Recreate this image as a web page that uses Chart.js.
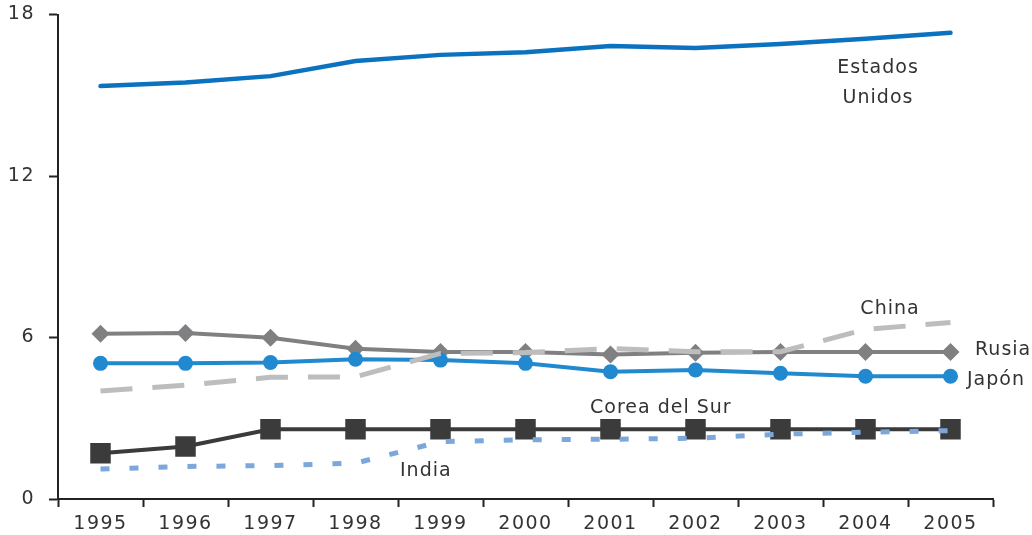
<!DOCTYPE html>
<html>
<head>
<meta charset="utf-8">
<script src="https://cdn.jsdelivr.net/npm/chart.js@4.4.0/dist/chart.umd.min.js"></script>
<style>
  html, body { margin: 0; padding: 0; background: #fff; }
  #wrap { width: 1032px; height: 535px; }
</style>
</head>
<body>
<div id="wrap"><canvas id="grafico"></canvas></div>
<script>
// datos
const anios = ["1995", "1996", "1997", "1998", "1999", "2000", "2001", "2002", "2003", "2004", "2005"];
const estadosUnidos = [15.34, 15.47, 15.71, 16.27, 16.5, 16.6, 16.83, 16.76, 16.9, 17.1, 17.32];
const rusia = [6.14, 6.17, 5.99, 5.58, 5.46, 5.46, 5.37, 5.43, 5.46, 5.46, 5.46];
const japon = [5.04, 5.04, 5.07, 5.19, 5.16, 5.04, 4.73, 4.79, 4.67, 4.56, 4.56];
const china = [4.01, 4.23, 4.52, 4.54, 5.41, 5.44, 5.59, 5.47, 5.47, 6.3, 6.56];
const corea = [1.7, 1.95, 2.59, 2.59, 2.59, 2.59, 2.59, 2.59, 2.59, 2.59, 2.59];
const india = [1.11, 1.21, 1.24, 1.33, 2.13, 2.2, 2.22, 2.26, 2.41, 2.48, 2.54];
const marcasY = [0, 6, 12, 18];

const fuente = '"DejaVu Sans", sans-serif';
const grisTexto = "#333333";

// etiquetas de las series (texto sobre el área del gráfico)
const etiquetas = [
  { texto: "Estados", x: 878, y: 68, align: "center" },
  { texto: "Unidos", x: 878, y: 98, align: "center" },
  { texto: "China", x: 890, y: 309, align: "center" },
  { texto: "Rusia", x: 975, y: 350, align: "left" },
  { texto: "Japón", x: 967, y: 380, align: "left" },
  { texto: "Corea del Sur", x: 590, y: 408, align: "left" },
  { texto: "India", x: 400, y: 471, align: "left" }
];

// espaciado de letras para las marcas de los ejes
const pluginEspaciado = {
  id: "espaciado",
  beforeDraw(chart) { chart.ctx.letterSpacing = "1.5px"; }
};

const pluginEtiquetas = {
  id: "etiquetas",
  afterDatasetsDraw(chart) {
    const ctx = chart.ctx;
    ctx.save();
    ctx.font = "19px " + fuente;
    ctx.letterSpacing = "1px";
    ctx.fillStyle = grisTexto;
    ctx.textBaseline = "middle";
    etiquetas.forEach(e => {
      ctx.textAlign = e.align;
      ctx.fillText(e.texto, e.x, e.y);
    });
    ctx.restore();
  }
};

function serie(label, data, color, extra) {
  return Object.assign({
    label,
    data,
    borderColor: color,
    backgroundColor: color,
    borderWidth: 4,
    pointRadius: 0,
    pointBorderWidth: 0,
    tension: 0,
    fill: false
  }, extra || {});
}

new Chart(document.getElementById("grafico"), {
  type: "line",
  data: {
    labels: anios,
    datasets: [
      serie("India", india, "#7ba7da", { borderDash: [9, 20], borderWidth: 5, borderCapStyle: "butt" }),
      serie("China", china, "#bdbdc0", { borderDash: [32, 20], borderWidth: 5, borderCapStyle: "butt" }),
      serie("Corea del Sur", corea, "#3b3b3b", { pointStyle: "rect", pointRadius: 14.5, borderWidth: 4 }),
      serie("Japón", japon, "#2189d0", { pointStyle: "circle", pointRadius: 7.5, borderWidth: 4 }),
      serie("Rusia", rusia, "#808083", { pointStyle: "rectRot", pointRadius: 9, borderWidth: 4 }),
      serie("Estados Unidos", estadosUnidos, "#0a72bf", { borderWidth: 4.5, borderCapStyle: "round" })
    ]
  },
  options: {
    responsive: true,
    maintainAspectRatio: false,
    animation: false,
    layout: { padding: { top: 13, right: 39, left: 0, bottom: 0 } },
    plugins: {
      legend: { display: false },
      tooltip: { enabled: false }
    },
    scales: {
      x: {
        offset: true,
        grid: {
          offset: true,
          drawOnChartArea: false,
          drawTicks: true,
          tickLength: 8,
          tickColor: "#222",
          tickWidth: 2
        },
        border: { display: true, color: "#222", width: 2 },
        ticks: {
          color: grisTexto,
          font: { family: fuente, size: 19 },
          padding: 6,
          maxRotation: 0,
          autoSkip: false
        },
        afterFit(scale) { scale.height = 36; }
      },
      y: {
        min: 0,
        max: 18,
        afterBuildTicks(scale) {
          scale.ticks = marcasY.map(v => ({ value: v }));
        },
        grid: {
          drawOnChartArea: false,
          drawTicks: true,
          tickLength: 9,
          tickColor: "#222",
          tickWidth: 2
        },
        border: { display: true, color: "#222", width: 2 },
        ticks: {
          color: grisTexto,
          font: { family: fuente, size: 19 },
          padding: 14
        },
        afterFit(scale) {
          scale.width = 58;
          scale.paddingTop = 0;
          scale.paddingBottom = 0;
        }
      }
    }
  },
  plugins: [pluginEspaciado, pluginEtiquetas]
});
</script>
</body>
</html>
